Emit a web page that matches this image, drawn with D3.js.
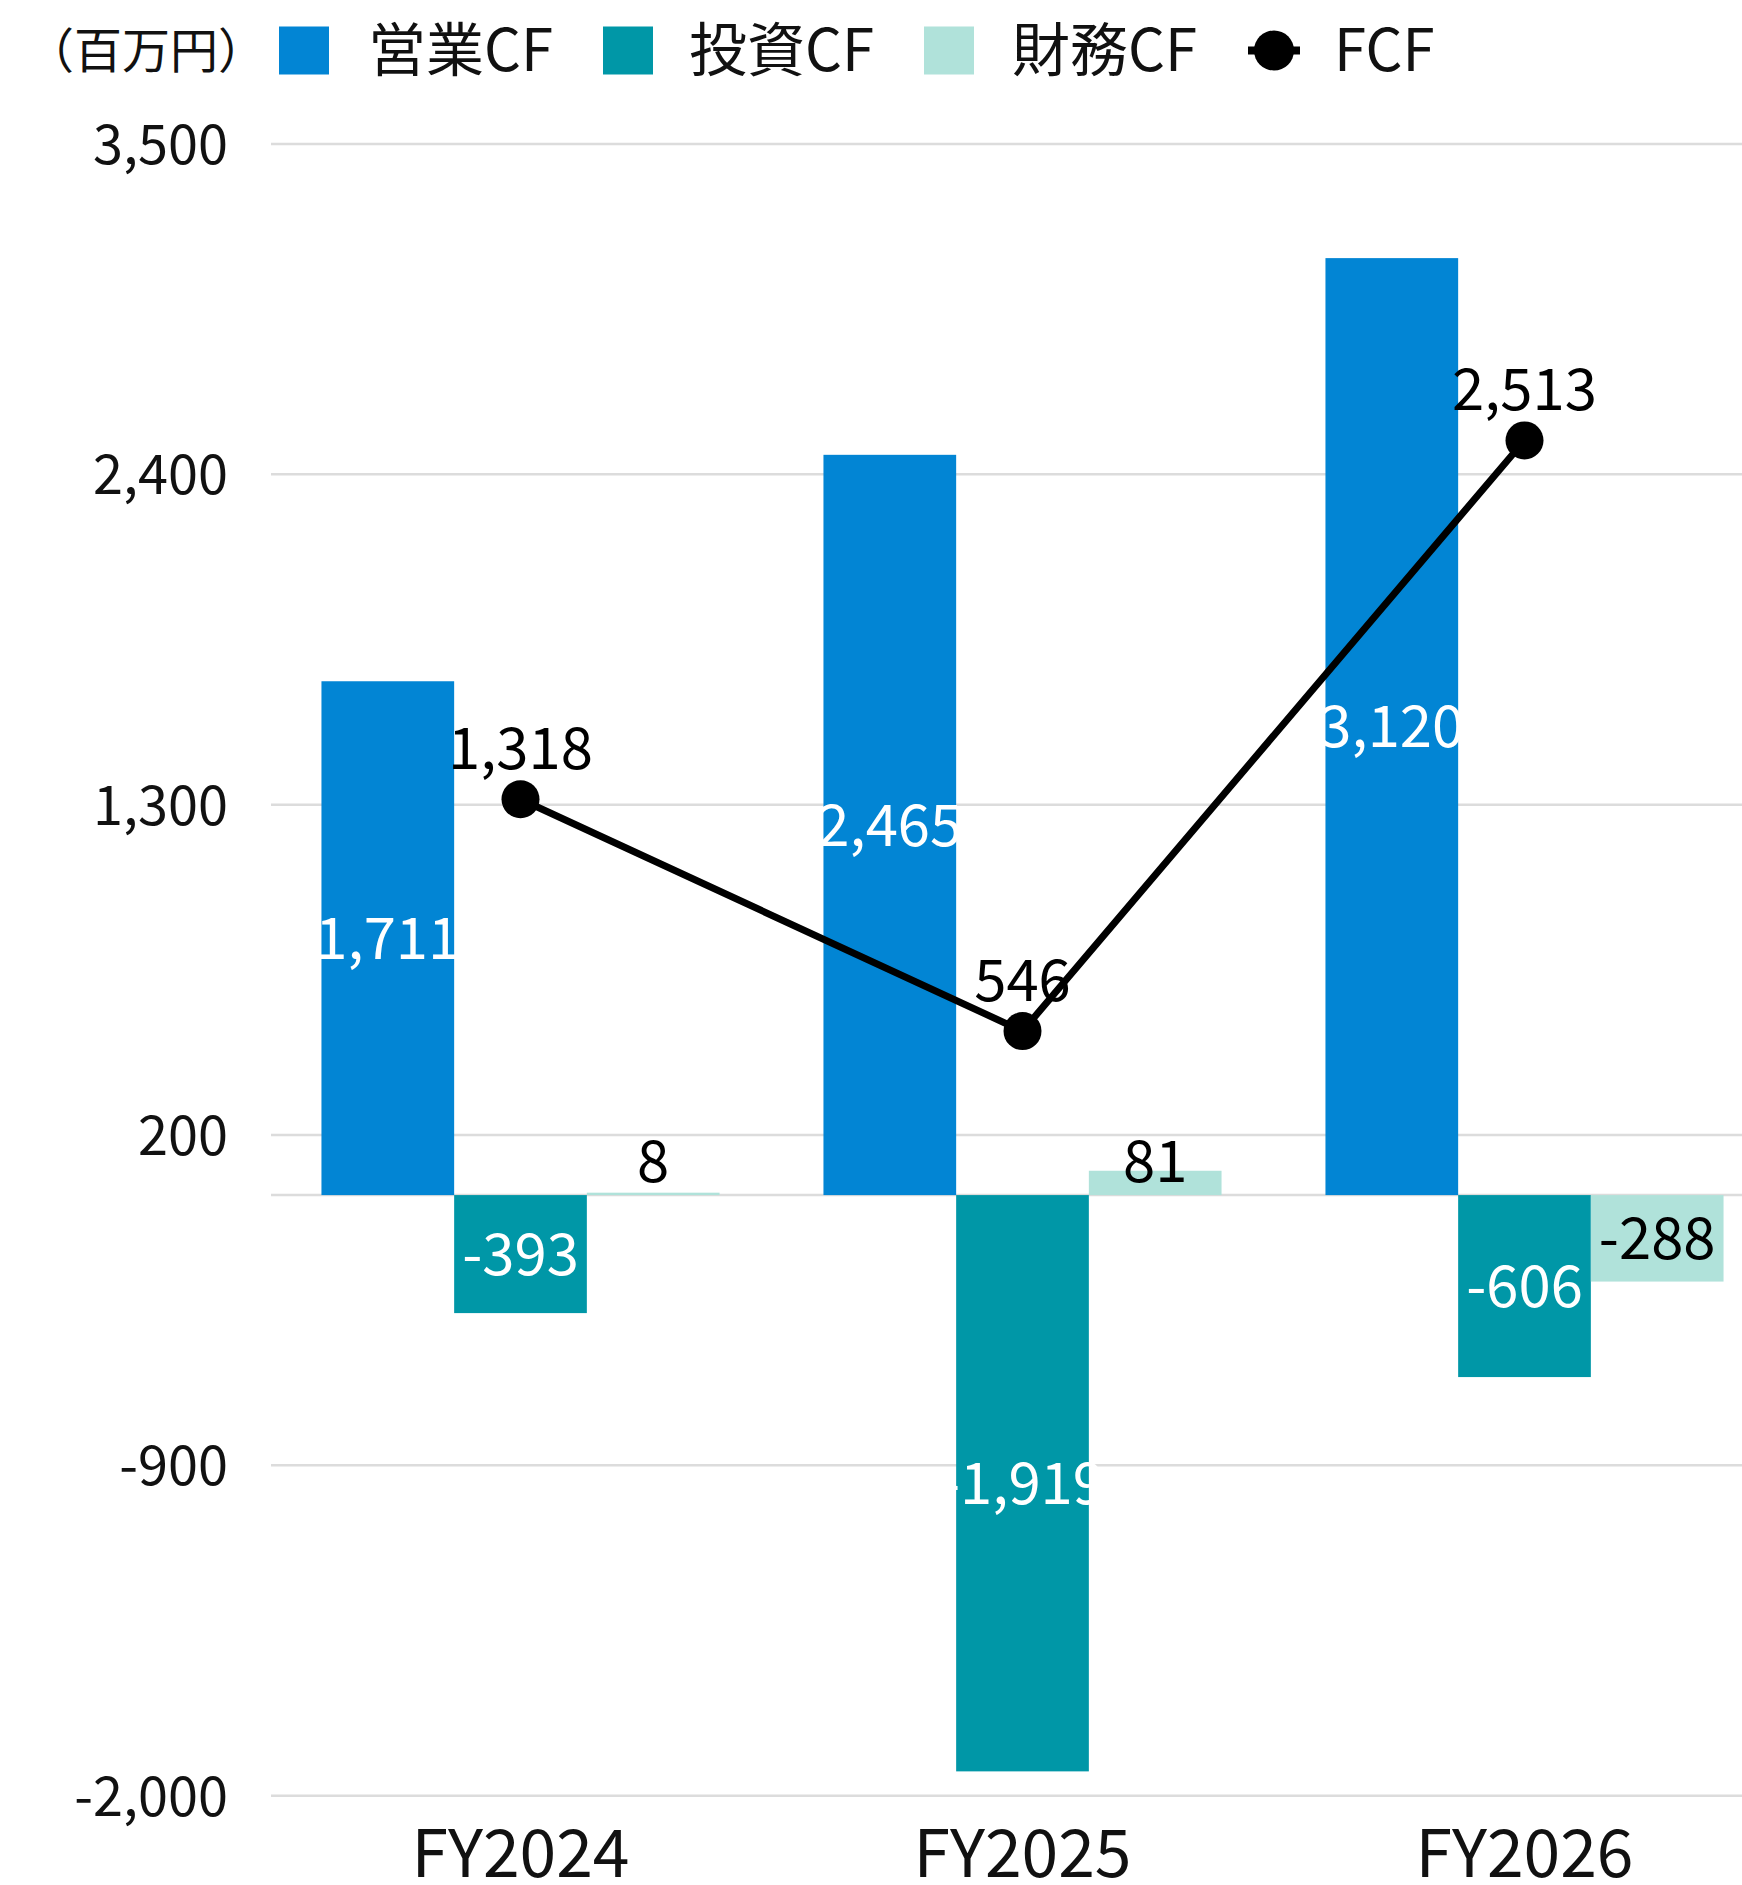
<!DOCTYPE html>
<html>
<head>
<meta charset="utf-8">
<script src="https://cdn.jsdelivr.net/npm/d3@7"></script>
<style>
  html, body { margin: 0; padding: 0; background: #fff; }
  svg { display: block; }
  text { font-family: "Noto Sans CJK JP", "Noto Sans", sans-serif; }
</style>
</head>
<body>
<svg id="chart" width="1742" height="1885"></svg>
<script>
// Cash flow by fiscal year (百万円)
const categories = ["FY2024", "FY2025", "FY2026"];
const seriesNames = ["営業CF", "投資CF", "財務CF"];
const operatingCF = [1711, 2465, 3120];
const investingCF = [-393, -1919, -606];
const financingCF = [8, 81, -288];
const freeCF = [1318, 546, 2513];
const yTicks = [-2000, -900, 200, 1300, 2400, 3500];

const colors = ["#0285d4", "#0097a7", "#b0e2da"];
const labelColors = ["#ffffff", "#ffffff", "#000000"];
const barSeries = [operatingCF, investingCF, financingCF];

const svg = d3.select("#chart");
const W = 1742;

const y = d3.scaleLinear().domain([-2000, 3500]).range([1795.7, 144]);
const x = d3.scaleBand().domain(categories).range([269.5, 1775.5])
  .paddingInner(0.207).paddingOuter(0.1035);
const xs = d3.scaleBand().domain(seriesNames).range([0, x.bandwidth()]).padding(0);

// thousands separator with a plain hyphen for negatives
const locale = d3.formatLocale({ decimal: ".", thousands: ",", grouping: [3], currency: ["", ""], minus: "-" });
const fmt = locale.format(",");

// gridlines and zero line
const grid = svg.append("g");
grid.selectAll("line.grid").data(yTicks.concat([0])).enter().append("line")
  .attr("x1", 271).attr("x2", W)
  .attr("y1", d => y(d)).attr("y2", d => y(d))
  .attr("stroke", "#dcdcdc").attr("stroke-width", 2.5);

// y axis labels
const yAxis = d3.axisLeft(y).tickValues(yTicks).tickFormat(fmt).tickSize(0).tickPadding(0);
const gy = svg.append("g").attr("transform", "translate(228,0)").call(yAxis);
gy.select(".domain").remove();
gy.selectAll("text").attr("font-size", 54).attr("fill", "#111").attr("dy", "0.36em")
  .attr("font-family", '"Noto Sans CJK JP", sans-serif');

// x axis labels
const xAxis = d3.axisBottom(x).tickSize(0).tickPadding(0);
const gx = svg.append("g").attr("transform", "translate(0,1877)").call(xAxis);
gx.select(".domain").remove();
gx.selectAll("text").attr("font-size", 66).attr("fill", "#111").attr("dy", 0)
  .attr("font-family", '"Noto Sans CJK JP", sans-serif');

// bars
const barData = [];
categories.forEach((c, i) => {
  seriesNames.forEach((s, k) => {
    barData.push({ cat: c, series: s, k: k, value: barSeries[k][i] });
  });
});

svg.append("g").selectAll("rect").data(barData).enter().append("rect")
  .attr("x", d => x(d.cat) + xs(d.series))
  .attr("width", xs.bandwidth())
  .attr("y", d => y(Math.max(0, d.value)))
  .attr("height", d => Math.abs(y(d.value) - y(0)))
  .attr("fill", d => colors[d.k]);

// free cash flow line
const cx = i => x(categories[i]) + x.bandwidth() / 2;
const line = d3.line().x((d, i) => cx(i)).y(d => y(d));
svg.append("path").datum(freeCF).attr("d", line)
  .attr("fill", "none").attr("stroke", "#000").attr("stroke-width", 7)
  .attr("stroke-linejoin", "round");
svg.append("g").selectAll("circle").data(freeCF).enter().append("circle")
  .attr("cx", (d, i) => cx(i)).attr("cy", d => y(d)).attr("r", 19).attr("fill", "#000");

// bar value labels
const LF = 58;
svg.append("g").selectAll("text").data(barData).enter().append("text")
  .attr("x", d => x(d.cat) + xs(d.series) + xs.bandwidth() / 2)
  .attr("y", d => {
    const mid = (y(d.value) + y(0)) / 2;
    const yc = d.value >= 0 ? Math.min(mid, y(0) - 34) : mid;
    return yc + LF * 0.36;
  })
  .attr("text-anchor", "middle").attr("font-size", LF)
  .attr("fill", d => labelColors[d.k])
  .text(d => fmt(d.value));

// FCF labels
svg.append("g").selectAll("text").data(freeCF).enter().append("text")
  .attr("x", (d, i) => cx(i)).attr("y", d => y(d) - 51 + LF * 0.36)
  .attr("text-anchor", "middle").attr("font-size", LF).attr("fill", "#000")
  .text(d => fmt(d));

// legend
const lg = svg.append("g");
const LY = 50.5;
lg.append("text").attr("x", 26).attr("y", LY + 48 * 0.36).attr("font-size", 48)
  .attr("fill", "#111").text("（百万円）");
const legendItems = [
  { name: "営業CF", sq: 279, tx: 368 },
  { name: "投資CF", sq: 603, tx: 689 },
  { name: "財務CF", sq: 924, tx: 1012 }
];
legendItems.forEach((d, k) => {
  lg.append("rect").attr("x", d.sq).attr("y", LY - 24).attr("width", 50).attr("height", 48)
    .attr("fill", colors[k]);
  lg.append("text").attr("x", d.tx).attr("y", LY + 58 * 0.36).attr("font-size", 58)
    .attr("fill", "#111").text(d.name);
});
lg.append("line").attr("x1", 1248).attr("x2", 1300).attr("y1", LY).attr("y2", LY)
  .attr("stroke", "#000").attr("stroke-width", 8);
lg.append("circle").attr("cx", 1274).attr("cy", LY).attr("r", 20).attr("fill", "#000");
lg.append("text").attr("x", 1334).attr("y", LY + 58 * 0.36).attr("font-size", 58)
  .attr("fill", "#111").text("FCF");
</script>
</body>
</html>
